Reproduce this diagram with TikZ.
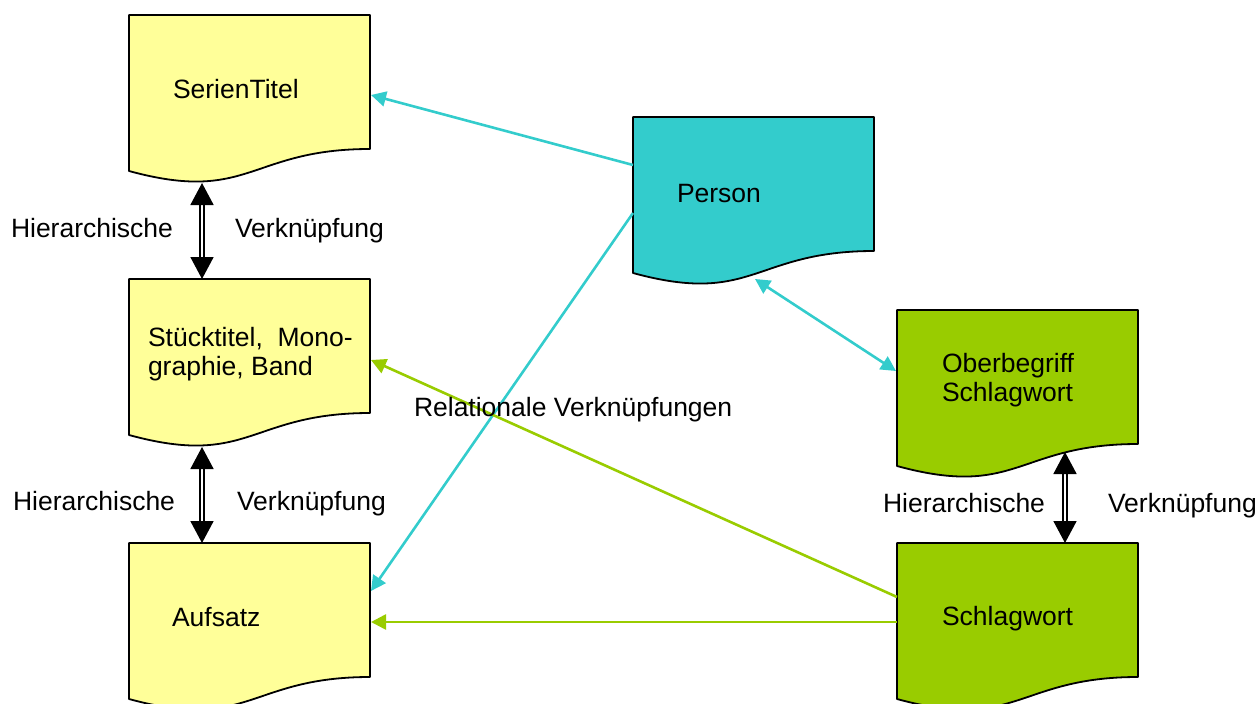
\documentclass[tikz,border=0pt]{standalone}
\usepackage{fontspec}
\setmainfont{Liberation Sans}
\usetikzlibrary{arrows.meta}
\definecolor{docyellow}{HTML}{FFFF99}
\definecolor{docteal}{HTML}{33CCCC}
\definecolor{docgreen}{HTML}{99CC00}

% flowchart "document" outline drawn on top of an (invisible) box node
\newcommand\docoutline[2]{%
  \begin{scope}[shift={(#1.north west)}]
    \draw[docline,fill=#2] (0,0) -- (241,0) -- (241,134)
      .. controls (120.5,134) and (120.5,189) .. (0,156) -- cycle;
  \end{scope}}

\begin{document}
\begin{tikzpicture}[x=1pt,y=-1pt,
  box/.style={minimum width=241pt,minimum height=167pt,inner sep=0pt,outer sep=0pt,anchor=north west},
  docline/.style={draw=black,line width=1.8pt,line join=round},
  lbl/.style={anchor=base west,inner sep=0pt,outer sep=0pt,font=\fontsize{26.5}{28.5}\selectfont,align=left},
  hier/.style={draw=black,line width=1.7pt,double=white,double distance=2.5pt,
    {Triangle[length=22pt,width=23pt]}-{Triangle[length=22pt,width=23pt]}},
  rel/.style={line width=2.6pt,-{Triangle[length=15pt,width=15pt]}},
  relboth/.style={line width=2.6pt,{Triangle[length=15pt,width=15pt]}-{Triangle[length=15pt,width=15pt]}}
]
\useasboundingbox (0,0) rectangle (1259,704);

% boxes
\node[box] (ser) at (129,15) {};
\node[box] (stu) at (129,279) {};
\node[box] (auf) at (129,543) {};
\node[box] (per) at (633,117) {};
\node[box] (obe) at (897,310) {};
\node[box] (sch) at (897,543) {};

\docoutline{ser}{docyellow}
\docoutline{stu}{docyellow}
\docoutline{auf}{docyellow}
\docoutline{per}{docteal}
\docoutline{obe}{docgreen}
\docoutline{sch}{docgreen}

% connector end points on the box outlines
\coordinate (serB) at (202,183);
\coordinate (stuT) at (202,279);
\coordinate (stuB) at (202,447);
\coordinate (aufT) at (202,543);
\coordinate (obeB) at (1065,452);
\coordinate (schT) at (1065,543);

\coordinate (serR) at (371,95);
\coordinate (stuR) at (371,360);
\coordinate (aufR1) at (371,591);
\coordinate (aufR2) at (371,622);
\coordinate (perL1) at (633,165);
\coordinate (perL2) at (633,213);
\coordinate (perB) at (755,279);
\coordinate (obeL) at (896,371);
\coordinate (schL1) at (897,597);
\coordinate (schL2) at (897,622);

% hierarchical links
\draw[hier] (serB) -- (stuT);
\draw[hier] (stuB) -- (aufT);
\draw[hier] (obeB) -- (schT);

% relational links
\draw[rel,docteal] (perL1) -- (serR);
\draw[rel,docteal] (perL2) -- (aufR1);
\draw[relboth,docteal] (perB) -- (obeL);
\draw[rel,docgreen] (schL1) -- (stuR);
\draw[rel,docgreen] (schL2) -- (aufR2);

% box texts (two-line nodes sit on the baseline of their last line)
\node[lbl] (tser) at (173,98) {SerienTitel};
\node[lbl] (tstu) at (148,375) {Stücktitel,~~Mono-\\graphie, Band};
\node[lbl] (tauf) at (172,626) {Aufsatz};
\node[lbl] (tper) at (677,202) {Person};
\node[lbl] (tobe) at (942,401) {Oberbegriff\\Schlagwort};
\node[lbl] (tsch) at (942,625) {Schlagwort};

% link captions
\node[lbl] (h1) at (11,237) {Hierarchische};
\node[lbl] (v1) at (235,237) {Verknüpfung};
\node[lbl] (h2) at (13,510) {Hierarchische};
\node[lbl] (v2) at (237,510) {Verknüpfung};
\node[lbl] (h3) at (883,512) {Hierarchische};
\node[lbl] (v3) at (1108,512) {Verknüpfung};
\node[lbl] (relT) at (414,416) {Relationale Verknüpfungen};
\end{tikzpicture}
\end{document}
